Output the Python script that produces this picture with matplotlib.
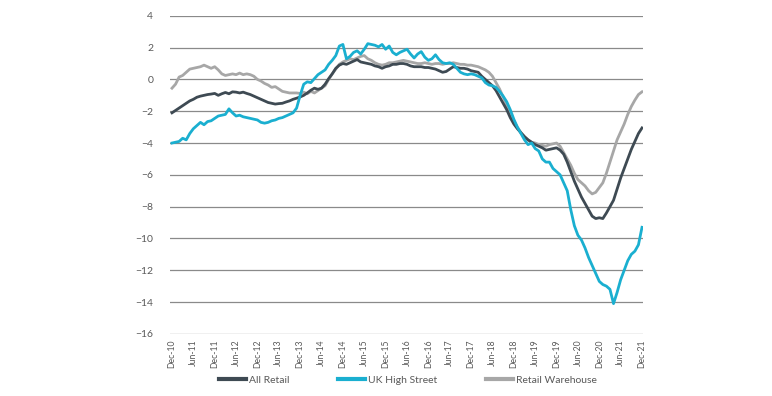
import matplotlib
matplotlib.use("Agg")
import matplotlib.pyplot as plt
import numpy as np

# ==========================
# DATA (monthly, Dec-10 .. Dec-21)
# ==========================
all_retail = [
    -2.10, -1.95, -1.80, -1.65, -1.50, -1.35, -1.25, -1.12, -1.05, -1.00,
    -0.95, -0.92, -0.88, -1.00, -0.90, -0.82, -0.90, -0.78, -0.80, -0.85,
    -0.80, -0.88, -0.95, -1.05, -1.15, -1.25, -1.35, -1.45, -1.50, -1.55,
    -1.52, -1.50, -1.42, -1.35, -1.25, -1.18, -1.10, -1.00, -0.85, -0.68,
    -0.55, -0.62, -0.55, -0.30, 0.05, 0.35, 0.70, 0.90, 1.00, 0.95,
    1.05, 1.15, 1.25, 1.10, 1.05, 1.00, 0.95, 0.85, 0.80, 0.70,
    0.80, 0.85, 0.95, 0.95, 1.00, 1.00, 0.95, 0.85, 0.80, 0.80,
    0.80, 0.75, 0.75, 0.70, 0.65, 0.55, 0.45, 0.50, 0.65, 0.80,
    0.75, 0.70, 0.70, 0.65, 0.55, 0.50, 0.45, 0.20, 0.00, -0.20,
    -0.40, -0.70, -1.10, -1.50, -1.90, -2.40, -2.80, -3.10, -3.35, -3.60,
    -3.80, -3.95, -4.10, -4.20, -4.30, -4.45, -4.40, -4.35, -4.30, -4.45,
    -4.70, -5.20, -5.80, -6.40, -6.90, -7.40, -7.80, -8.20, -8.60, -8.75,
    -8.70, -8.75, -8.40, -8.00, -7.60, -6.90, -6.20, -5.60, -5.00, -4.40,
    -3.90, -3.40, -3.05,
]

uk_high_street = [
    -4.00, -3.95, -3.90, -3.70, -3.80, -3.40, -3.10, -2.90, -2.70, -2.85,
    -2.65, -2.60, -2.45, -2.30, -2.25, -2.20, -1.85, -2.10, -2.30, -2.25,
    -2.35, -2.40, -2.45, -2.50, -2.55, -2.70, -2.75, -2.70, -2.60, -2.55,
    -2.45, -2.40, -2.30, -2.20, -2.10, -1.80, -1.00, -0.30, -0.15, -0.20,
    0.05, 0.30, 0.45, 0.60, 0.95, 1.20, 1.50, 2.10, 2.20, 1.30,
    1.45, 1.70, 1.80, 1.60, 1.90, 2.25, 2.20, 2.15, 2.05, 2.20,
    1.90, 2.10, 1.70, 1.55, 1.70, 1.80, 1.90, 1.60, 1.35, 1.60,
    1.75, 1.40, 1.20, 1.30, 1.55, 1.25, 1.05, 1.00, 1.05, 0.95,
    0.70, 0.45, 0.35, 0.30, 0.35, 0.30, 0.20, 0.10, -0.20, -0.35,
    -0.40, -0.50, -0.75, -1.05, -1.40, -1.90, -2.50, -3.00, -3.40, -3.80,
    -4.10, -4.00, -4.35, -4.50, -5.00, -5.20, -5.20, -5.60, -5.80, -6.00,
    -6.50, -7.00, -8.20, -9.20, -9.80, -10.10, -10.60, -11.20, -11.70, -12.20,
    -12.70, -12.90, -13.00, -13.20, -14.10, -13.40, -12.60, -12.00, -11.40, -11.00,
    -10.80, -10.40, -9.30,
]

retail_warehouse = [
    -0.55, -0.30, 0.15, 0.25, 0.45, 0.65, 0.70, 0.75, 0.80, 0.90,
    0.80, 0.70, 0.80, 0.60, 0.35, 0.25, 0.30, 0.35, 0.30, 0.40,
    0.30, 0.35, 0.30, 0.20, 0.00, -0.10, -0.25, -0.35, -0.50, -0.45,
    -0.60, -0.75, -0.80, -0.85, -0.85, -0.85, -0.88, -0.80, -0.90, -0.75,
    -0.85, -0.70, -0.55, -0.40, 0.00, 0.35, 0.65, 0.95, 1.10, 1.20,
    1.30, 1.25, 1.35, 1.45, 1.50, 1.30, 1.20, 1.05, 0.95, 0.90,
    0.95, 1.05, 1.05, 1.10, 1.15, 1.20, 1.15, 1.10, 1.05, 1.00,
    1.00, 1.05, 1.00, 0.95, 1.00, 1.00, 0.95, 1.00, 1.00, 1.05,
    1.00, 0.95, 0.95, 0.90, 0.90, 0.85, 0.80, 0.70, 0.60, 0.45,
    0.20, -0.20, -0.60, -1.10, -1.60, -2.10, -2.60, -3.00, -3.35, -3.60,
    -3.80, -3.95, -4.00, -4.10, -4.15, -4.20, -4.10, -4.05, -4.00, -4.20,
    -4.60, -5.00, -5.40, -5.90, -6.30, -6.50, -6.70, -7.00, -7.20, -7.10,
    -6.80, -6.50, -5.90, -5.20, -4.50, -3.80, -3.30, -2.80, -2.20, -1.70,
    -1.30, -0.95, -0.78,
]

tick_labels = [
    "Dec-10", "Jun-11", "Dec-11", "Jun-12", "Dec-12", "Jun-13", "Dec-13",
    "Jun-14", "Dec-14", "Jun-15", "Dec-15", "Jun-16", "Dec-16", "Jun-17",
    "Dec-17", "Jun-18", "Dec-18", "Jun-19", "Dec-19", "Jun-20", "Dec-20",
    "Jun-21", "Dec-21",
]

months = np.arange(len(all_retail))

# ==========================
# PLOT
# ==========================
plt.rcParams["font.family"] = ["Lato", "DejaVu Sans"]

fig = plt.figure(figsize=(7.72, 3.96), dpi=100)
ax = fig.add_axes([0.220, 0.157, 0.613, 0.803])

ax.plot(months, all_retail, color="#3e4a53", lw=2.0, label="All Retail", zorder=3)
ax.plot(months, uk_high_street, color="#1aafd0", lw=2.0, label="UK High Street", zorder=4)
ax.plot(months, retail_warehouse, color="#a7a7a7", lw=2.0, label="Retail Warehouse", zorder=2)

ax.set_ylim(-16, 4)
ax.set_yticks(np.arange(-16, 5, 2))
ax.set_xlim(-0.6, 132.3)
ax.set_xticks(np.arange(0, 133, 6))
ax.set_xticklabels(tick_labels, rotation=90)

ax.grid(axis="y", color="#8a8a8a", lw=0.9)
ax.set_axisbelow(True)
for s in ax.spines.values():
    s.set_visible(False)
ax.tick_params(axis="both", length=0, colors="#595959")
ax.tick_params(axis="y", labelsize=7.5, pad=12)
ax.tick_params(axis="x", labelsize=6.2, pad=4)

leg = fig.legend(loc="center", bbox_to_anchor=(0.528, 0.04), ncol=3, frameon=False,
                 fontsize=7.5, handlelength=2.6, handletextpad=0.25, columnspacing=4.7)
for t in leg.get_texts():
    t.set_color("#595959")
for h in leg.get_lines():
    h.set_linewidth(3.0)

fig.savefig("out.png", dpi=100)
